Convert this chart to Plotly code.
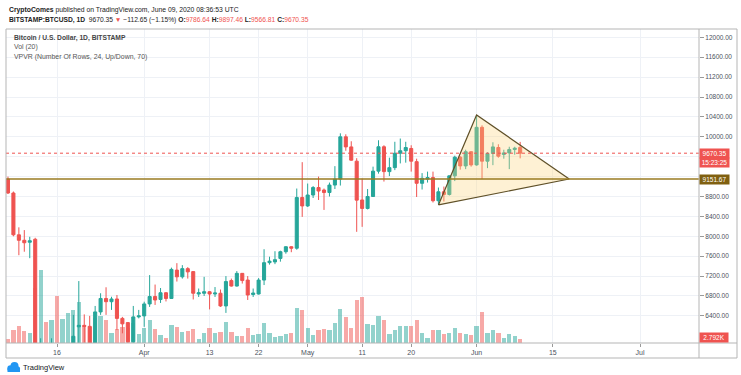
import plotly.graph_objects as go
import pandas as pd

# ---------------- data ----------------
dates = pd.date_range("2020-03-07", "2020-06-09", freq="D")

opens = [9150, 8870, 8030, 7920, 7880, 7940, 4860, 5620, 5170, 5360, 5020, 5360, 5400, 6180, 6210, 6190, 5820, 6480, 6750, 6685, 6740, 6350, 6265, 5880, 6380,
         6400, 6640, 6790, 6730, 6865, 6750, 7320, 7185, 7350, 7290, 6840, 6855, 6885, 6840, 6855, 6600, 7110, 7000, 7255, 7120, 6830, 6840, 7120, 7470, 7485, 7555, 7690, 7790, 7760, 8780,
         8610, 8830, 8980, 8930, 8880, 9030, 9150, 10000, 9797, 9510, 8730, 8560, 8800, 9310, 9800, 9300, 9380, 9670, 9720, 9765, 9500, 9065, 9150, 9180, 8715, 8895, 8840, 9215, 9590, 9415, 9700,
         9435, 10190, 9510, 9665, 9785, 9645, 9676, 9745, 9786.64]
highs = [9200, 8900, 8180, 8125, 7990, 7970, 5950, 5650, 5950, 5370, 5550, 5430, 6420, 7100, 6430, 6400, 6600, 6855, 6975, 6785, 6820, 6380, 6270, 6600, 6520,
         6685, 7220, 7030, 6960, 6880, 7370, 7460, 7420, 7380, 7300, 6950, 7185, 6900, 6980, 6930, 7200, 7150, 7300, 7260, 7200, 6950, 7160, 7740, 7590, 7700, 7710, 7800, 7800, 8960, 9490,
         9060, 9010, 9200, 8960, 9080, 9410, 10070, 10050, 9910, 9570, 9160, 8950, 9400, 9930, 9830, 9580, 9900, 9965, 9900, 9830, 9560, 9270, 9300, 9300, 8980, 9000, 9220, 9620, 9610, 9740, 9710,
         10430, 10230, 9690, 9890, 9850, 9740, 9800, 9800, 9897.46]
lows = [8850, 8000, 7620, 7690, 7560, 4700, 3850, 5090, 5100, 4440, 4960, 5020, 5260, 5700, 5860, 5760, 5700, 6420, 6420, 6520, 6115, 6050, 5860, 5860, 6350,
        6180, 6580, 6620, 6660, 6690, 6740, 7090, 7150, 7150, 6730, 6780, 6800, 6530, 6780, 6580, 6460, 6990, 6990, 7050, 6720, 6780, 6830, 7020, 7430, 7440, 7490, 7650, 7680, 7730, 8390,
        8590, 8770, 8730, 8530, 8800, 8950, 9020, 9720, 9520, 8090, 8190, 8540, 8790, 9260, 9100, 9210, 9330, 9465, 9480, 9300, 8790, 8940, 9080, 8680, 8640, 8700, 8820, 9110, 9340, 9350, 9400,
        9420, 9150, 9370, 9430, 9580, 9560, 9350, 9640, 9566.81]
closes = [8870, 8030, 7920, 7870, 7910, 4860, 5620, 5170, 5360, 5020, 5360, 5400, 5990, 6210, 6190, 5820, 6480, 6750, 6685, 6740, 6350, 6240, 5880, 6380, 6400,
          6640, 6790, 6720, 6865, 6750, 7335, 7185, 7350, 7285, 6855, 6865, 6885, 6840, 6860, 6600, 7090, 7000, 7255, 7110, 6820, 6860, 7120, 7470, 7500, 7530, 7690, 7790, 7760, 8780, 8610,
          8830, 8980, 8910, 8880, 9030, 9150, 10000, 9797, 9530, 8727, 8560, 8800, 9310, 9800, 9300, 9380, 9670, 9720, 9785, 9510, 9065, 9165, 9180, 8715, 8895, 8840, 9215, 9590, 9415, 9700, 9435,
          10190, 9510, 9665, 9797, 9610, 9676, 9745, 9771, 9670.35]
volumes_k = [2.8, 8.1, 10.6, 7.4, 6.4, 35.0, 46.2, 13.3, 14.4, 29.7, 15.0, 19.2, 21.1, 26.0, 10.6, 10.2, 15.9, 17.0, 14.4, 6.4, 9.1, 10.2, 9.5, 12.7, 5.5,
             9.7, 14.8, 9.1, 4.9, 3.4, 11.6, 10.2, 7.0, 7.4, 9.1, 2.8, 6.4, 9.5, 6.4, 7.0, 13.3, 7.0, 4.3, 4.3, 9.7, 4.9, 5.5, 12.7, 6.4, 3.8, 4.6, 5.9, 6.4, 22.4, 20.8,
             9.7, 4.9, 8.1, 8.7, 8.4, 12.9, 21.4, 16.5, 9.7, 27.1, 29.2, 12.3, 11.2, 17.1, 14.8, 5.5, 8.4, 10.6, 10.6, 10.6, 14.4, 6.4, 3.4, 8.1, 8.1, 5.5, 6.4, 9.7, 6.4, 5.9, 4.9,
             10.6, 19.5, 6.4, 8.1, 6.4, 3.4, 5.9, 4.6, 2.792]

price_ticks = [6400, 6800, 7200, 7600, 8000, 8400, 8800, 9200, 9600, 10000, 10400, 10800, 11200, 11600, 12000]
price_tick_labels = ["6400.00", "6800.00", "7200.00", "7600.00", "8000.00", "8400.00", "8800.00", "",
                     "", "10000.00", "10400.00", "10800.00", "11200.00", "11600.00", "12000.00"]
date_ticks = ["2020-03-16", "2020-04-01", "2020-04-13", "2020-04-22", "2020-05-01",
              "2020-05-11", "2020-05-20", "2020-06-01", "2020-06-15", "2020-07-01"]
date_tick_labels = ["16", "Apr", "13", "22", "May", "11", "20", "Jun", "15", "Jul"]

tri_dates = ["2020-05-25", "2020-06-01", "2020-06-18", "2020-05-25"]
tri_prices = [8630, 10438, 9151.67, 8630]
support_level = 9151.67
last_price = 9670.35
last_volume_k = 2.792

UP, DOWN = "#26a69a", "#ef5350"
UP_V, DOWN_V = "rgba(38,166,154,0.5)", "rgba(239,83,80,0.5)"
FONT = "Liberation Sans, Arial, sans-serif"
GRID = "#eef1f6"
FRAME = "#b5b5b5"

# pixel -> paper helpers (for decoration only)
L, R, T, B = 6, 699, 29, 343
def px(x):
    return (x - L) / (R - L)
def py(y):
    return (B - y) / (B - T)

vol_colors = [UP_V if c >= o else DOWN_V for o, c in zip(opens, closes)]

fig = go.Figure()
fig.add_trace(go.Bar(x=dates, y=volumes_k, marker=dict(color=vol_colors, line=dict(width=0)),
                     width=0.78 * 86400000, yaxis="y", hoverinfo="skip", showlegend=False))
fig.add_trace(go.Candlestick(x=dates, open=opens, high=highs, low=lows, close=closes,
                             yaxis="y2", whiskerwidth=0,
                             increasing=dict(line=dict(color=UP, width=1), fillcolor=UP),
                             decreasing=dict(line=dict(color=DOWN, width=1), fillcolor=DOWN),
                             hoverinfo="skip", showlegend=False))
fig.add_trace(go.Scatter(x=tri_dates, y=tri_prices, yaxis="y2", mode="lines", fill="toself",
                         fillcolor="rgba(252,215,130,0.34)",
                         line=dict(color="rgb(95,80,40)", width=1.2),
                         hoverinfo="skip", showlegend=False))

shapes = [
    dict(type="line", xref="paper", x0=0, x1=1, yref="y2", y0=last_price, y1=last_price,
         line=dict(color=DOWN, width=1, dash="dot")),
    dict(type="line", xref="paper", x0=0, x1=1, yref="y2", y0=support_level, y1=support_level,
         line=dict(color="#9a7b22", width=1.6)),
]
# frame
frame_lines = [
    (6, 29, 737, 29), (6, 358, 737, 358), (6, 29, 6, 358), (737, 29, 737, 358),
    (699, 29, 699, 358), (6, 343, 737, 343),
]
for x0, y0, x1, y1 in frame_lines:
    shapes.append(dict(type="line", xref="paper", yref="paper", x0=px(x0), x1=px(x1),
                       y0=py(y0), y1=py(y1), line=dict(color=FRAME, width=1)))
# TradingView logo cloud
for cx, cy, r in [(10.5, 368.5, 3.2), (14.5, 366, 4.0), (17.5, 368.8, 2.6)]:
    shapes.append(dict(type="circle", xref="paper", yref="paper", x0=px(cx - r), x1=px(cx + r),
                       y0=py(cy + r), y1=py(cy - r), fillcolor="#2196f3", line=dict(width=0)))
shapes.append(dict(type="rect", xref="paper", yref="paper", x0=px(7.5), x1=px(20), y0=py(372), y1=py(368.5),
                   fillcolor="#2196f3", line=dict(width=0)))

annotations = [
    dict(xref="paper", yref="paper", x=px(7), y=py(9.5), xanchor="left", yanchor="middle", showarrow=False,
         text="<b>CryptoComes</b> published on TradingView.com, June 09, 2020 08:36:53 UTC",
         font=dict(family=FONT, size=6.8, color="#222")),
    dict(xref="paper", yref="paper", x=px(7), y=py(20.5), xanchor="left", yanchor="middle", showarrow=False,
         text=("<b>BITSTAMP:BTCUSD, 1D</b>  9670.35 <span style='color:#ef5350'>▼</span> −112.65 (−1.15%) "
               "<b>O:</b><span style='color:#ef5350'>9786.64</span> <b>H:</b><span style='color:#ef5350'>9897.46</span> "
               "<b>L:</b><span style='color:#ef5350'>9566.81</span> <b>C:</b><span style='color:#ef5350'>9670.35</span>"),
         font=dict(family=FONT, size=6.7, color="#222")),
    dict(xref="paper", yref="paper", x=px(12), y=py(37.5), xanchor="left", yanchor="middle", showarrow=False,
         text="<b>Bitcoin / U.S. Dollar, 1D, BITSTAMP</b>", font=dict(family=FONT, size=6.7, color="#444")),
    dict(xref="paper", yref="paper", x=px(12), y=py(47), xanchor="left", yanchor="middle", showarrow=False,
         text="Vol (20)", font=dict(family=FONT, size=6.9, color="#555")),
    dict(xref="paper", yref="paper", x=px(12), y=py(56.5), xanchor="left", yanchor="middle", showarrow=False,
         text="VPVR (Number Of Rows, 24, Up/Down, 70)", font=dict(family=FONT, size=6.9, color="#555")),
    dict(xref="paper", yref="paper", x=px(21), y=py(367.5), xanchor="left", yanchor="middle", showarrow=False,
         text="TradingView", font=dict(family=FONT, size=7.5, color="#131722")),
    # right axis price labels
    dict(xref="paper", yref="y2", x=1, y=last_price, xanchor="left", yanchor="middle", showarrow=False,
         text="9670.35", bgcolor=DOWN, borderpad=1, width=27, font=dict(family=FONT, size=6.5, color="white")),
    dict(xref="paper", yref="y2", x=1, y=last_price, yshift=-9.5, xanchor="left", yanchor="middle", showarrow=False,
         text="15:23:25", bgcolor=DOWN, borderpad=1, width=27, font=dict(family=FONT, size=6.5, color="white")),
    dict(xref="paper", yref="y2", x=1, y=support_level, xanchor="left", yanchor="middle", showarrow=False,
         text="9151.67", bgcolor="#806010", borderpad=1, width=27, font=dict(family=FONT, size=6.5, color="white")),
    dict(xref="paper", yref="y", x=1, y=last_volume_k, yshift=1, xanchor="left", yanchor="middle", showarrow=False,
         text="2.792K", bgcolor=DOWN, borderpad=1, width=26, font=dict(family=FONT, size=6.5, color="white")),
]

fig.update_layout(
    width=741, height=375, autosize=False,
    margin=dict(l=6, r=42, t=29, b=32, pad=0),
    paper_bgcolor="white", plot_bgcolor="white",
    showlegend=False, bargap=0, boxgap=0.2,
    xaxis=dict(type="date", range=["2020-03-06 15:20", "2020-07-11 19:40"],
               tickvals=date_ticks, ticktext=date_tick_labels,
               showgrid=True, gridcolor=GRID, gridwidth=1, zeroline=False, showline=False,
               ticks="outside", ticklen=3, tickcolor="#999",
               tickfont=dict(family=FONT, size=7, color="#4c525e"),
               rangeslider=dict(visible=False), fixedrange=True),
    yaxis=dict(range=[0, 199.4], visible=False, showgrid=False, fixedrange=True),
    yaxis2=dict(overlaying="y", side="right", range=[5855, 12167],
                tickvals=price_ticks, ticktext=price_tick_labels,
                showgrid=True, gridcolor=GRID, gridwidth=1, zeroline=False, showline=False,
                ticks="outside", ticklen=4, tickcolor="#999",
                tickfont=dict(family=FONT, size=6.5, color="#4c525e"), fixedrange=True),
    shapes=shapes, annotations=annotations,
)

fig.write_html("out.html", config={"displayModeBar": False, "staticPlot": True},
               post_script="document.body.style.margin='0';document.body.style.padding='0';")
